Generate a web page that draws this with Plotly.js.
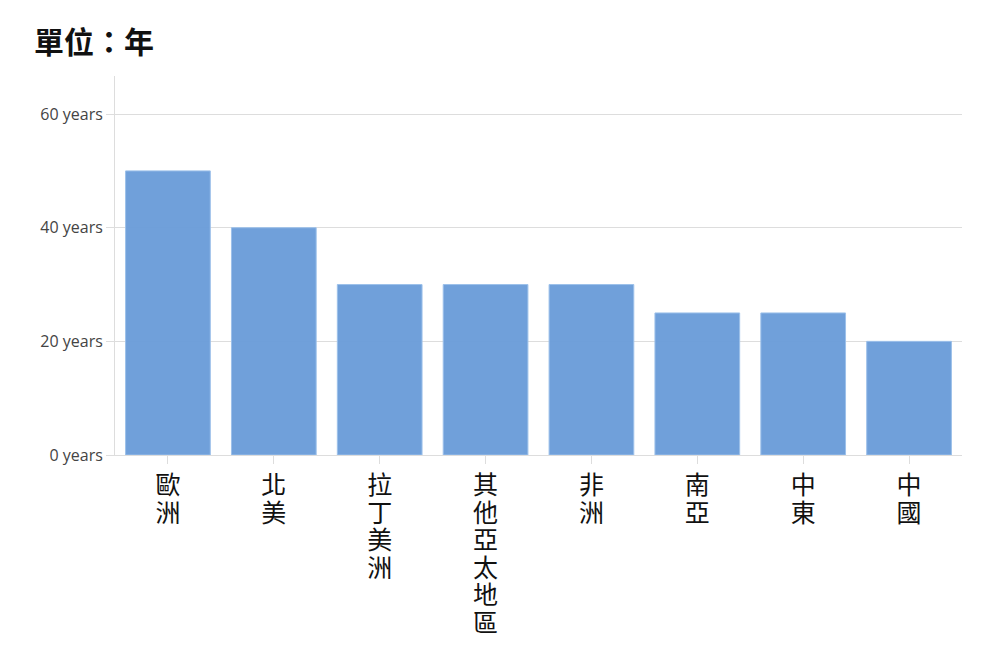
<!DOCTYPE html>
<html>
<head>
<meta charset="utf-8">
<script src="https://cdn.plot.ly/plotly-3.0.1.min.js"></script>
<style>body{margin:0;background:#fff}#chart{width:1000px;height:660px}</style>
</head>
<body>
<div id="chart"></div>
<script>
const regions = ["歐洲", "北美", "拉丁美洲", "其他亞太地區", "非洲", "南亞", "中東", "中國"];
const years = [50, 40, 30, 30, 30, 25, 25, 20];
const yTicks = [0, 20, 40, 60];

// 直排文字：每個字換行
const verticalLabels = regions.map(r => r.split("").join("<br>"));

const trace = {
    type: "bar",
    x: regions,
    y: years,
    marker: { color: "rgba(104,155,216,0.95)", line: { color: "#9cc0ea", width: 1 } },
    hoverinfo: "x+y"
};

const layout = {
    width: 1000,
    height: 660,
    margin: { l: 115, r: 38, t: 76, b: 205 },
    paper_bgcolor: "#fff",
    plot_bgcolor: "#fff",
    bargap: 0.2,
    showlegend: false,
    title: {
        text: "<b>單位：年</b>",
        x: 0.034, xanchor: "left",
        y: 0.936, yanchor: "middle",
        font: { family: "Noto Sans CJK TC", size: 30, color: "#111" }
    },
    xaxis: {
        tickvals: regions,
        ticktext: verticalLabels,
        tickfont: { family: "Noto Sans CJK TC", size: 25, color: "#111" },
        ticks: "outside", ticklen: 8, tickcolor: "#ddd",
        showline: true, linecolor: "#ddd", linewidth: 1,
        tickangle: 0
    },
    yaxis: {
        range: [0, 66.7],
        tickvals: yTicks,
        ticktext: yTicks.map(v => v + " years"),
        tickfont: { family: "Open Sans", size: 16, color: "#444" },
        ticks: "outside", ticklen: 8, tickcolor: "#ddd",
        showgrid: true, gridcolor: "#ddd",
        showline: true, linecolor: "#ddd",
        zeroline: false
    }
};

Plotly.newPlot("chart", [trace], layout, { displayModeBar: false }).then(gd => {
    // 直排字距較緊：依比例縮小行距
    gd.querySelectorAll(".xtick text tspan.line").forEach(t => {
        const dy = parseFloat(t.getAttribute("dy"));
        if (dy) t.setAttribute("dy", (dy * 1.1 / 1.3).toFixed(3) + "em");
    });
});
</script>
</body>
</html>
